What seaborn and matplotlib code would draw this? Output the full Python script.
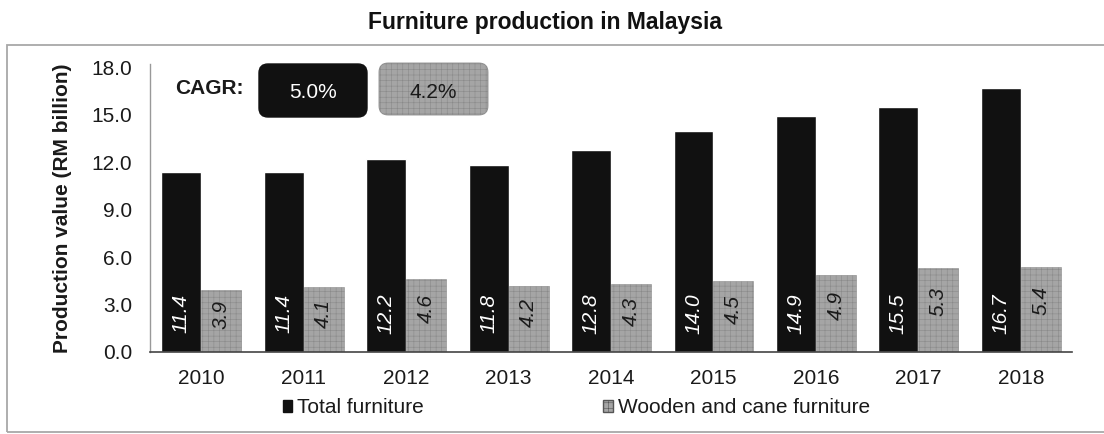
import pandas as pd
import seaborn as sns
import matplotlib.pyplot as plt
from matplotlib.patches import FancyBboxPatch, Rectangle, Patch

# data
years = ['2010', '2011', '2012', '2013', '2014', '2015', '2016', '2017', '2018']
total_furniture = [11.4, 11.4, 12.2, 11.8, 12.8, 14.0, 14.9, 15.5, 16.7]
wooden_cane = [3.9, 4.1, 4.6, 4.2, 4.3, 4.5, 4.9, 5.3, 5.4]
series_names = ['Total furniture', 'Wooden and cane furniture']
cagr = ['5.0%', '4.2%']

sns.set_theme(style='white')
plt.rcParams['font.family'] = ['Liberation Sans', 'DejaVu Sans']
plt.rcParams['hatch.linewidth'] = 0.4

df = pd.DataFrame({
    'year': years * 2,
    'value': total_furniture + wooden_cane,
    'series': [series_names[0]] * len(years) + [series_names[1]] * len(years),
})

black = '#111111'
grey = '#a5a5a5'

fig = plt.figure(figsize=(11.04, 4.34), dpi=100)
ax = fig.add_axes([0.136, 0.189, 0.835, 0.663])

sns.barplot(data=df, x='year', y='value', hue='series', hue_order=series_names,
            palette=[black, grey], width=0.78, saturation=1, legend=False, ax=ax)

# grid texture on the grey bars
for bar in ax.containers[1]:
    bar.set_hatch('+++')
    bar.set_edgecolor('#8a8a8a')
    bar.set_linewidth(0.4)

# rotated value labels
for bar, v in zip(ax.containers[0], total_furniture):
    ax.text(bar.get_x() + bar.get_width() / 2, 2.45, f'{v:.1f}', rotation=90,
            ha='center', va='center', color='white', fontsize=15, style='italic')
for bar, v in zip(ax.containers[1], wooden_cane):
    ax.text(bar.get_x() + bar.get_width() / 2, v * 0.6, f'{v:.1f}', rotation=90,
            ha='center', va='center', color='#1a1a1a', fontsize=15, style='italic')

ax.set_ylim(0, 18.2)
ax.set_xlim(-0.5, 8.5)
ax.set_yticks([0, 3, 6, 9, 12, 15, 18])
ax.set_yticklabels([f'{t:.1f}' for t in [0, 3, 6, 9, 12, 15, 18]])
ax.tick_params(axis='y', length=0, pad=13, labelsize=15, labelcolor='#1a1a1a')
ax.tick_params(axis='x', length=0, pad=12, labelsize=15, labelcolor='#1a1a1a')
ax.set_xlabel('')
ax.set_ylabel('Production value (RM billion)', fontsize=15, fontweight='bold',
              color='#1a1a1a', labelpad=14)
for s in ['top', 'right']:
    ax.spines[s].set_visible(False)
ax.spines['left'].set_color('#999999')
ax.spines['left'].set_linewidth(1)
ax.spines['bottom'].set_color('#444444')
ax.spines['bottom'].set_linewidth(1.2)

# legend under the axis
handles = [Patch(facecolor=black, edgecolor=black),
           Patch(facecolor=grey, edgecolor='#555555', hatch='+++')]
fig.legend(handles, series_names, loc='center', bbox_to_anchor=(0.522, 0.06),
           ncol=2, frameon=False, fontsize=15, handlelength=0.45, handleheight=0.45,
           handletextpad=0.25, columnspacing=8.6, labelcolor='#1a1a1a')

# title and outer frame
fig.text(0.494, 0.949, 'Furniture production in Malaysia', ha='center', va='center',
         fontsize=16.5, fontweight='bold', color='#111111')
fig.add_artist(Rectangle((0.07, 0.02), 11.0, 3.87, transform=fig.dpi_scale_trans,
                         fill=False, edgecolor='#a8a8a8', linewidth=1.3))

# CAGR boxes
fig.text(0.190, 0.797, 'CAGR:', ha='center', va='center', fontsize=15,
         fontweight='bold', color='#1a1a1a')
fig.add_artist(FancyBboxPatch((2.59, 3.17), 1.08, 0.53, boxstyle='round,pad=0,rounding_size=0.09',
                              transform=fig.dpi_scale_trans, facecolor=black, edgecolor=black))
fig.add_artist(FancyBboxPatch((3.79, 3.19), 1.09, 0.52, boxstyle='round,pad=0,rounding_size=0.09',
                              transform=fig.dpi_scale_trans, facecolor=grey, edgecolor='#8a8a8a',
                              hatch='+++', linewidth=0.6))
fig.text(0.2835, 0.788, cagr[0], ha='center', va='center', fontsize=15, color='white')
fig.text(0.392, 0.788, cagr[1], ha='center', va='center', fontsize=15, color='#1a1a1a')

fig.savefig('out.png', dpi=100)
